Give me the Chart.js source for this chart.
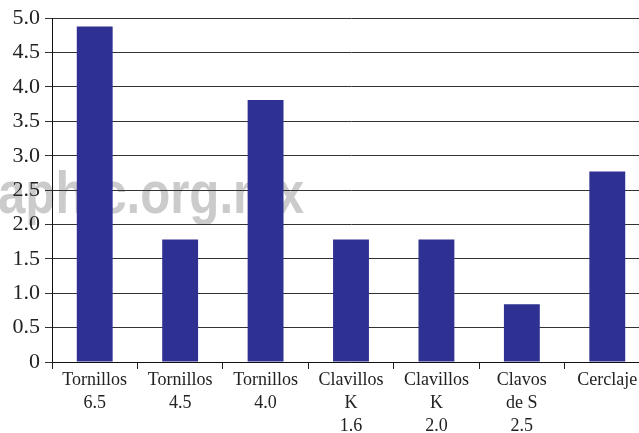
<!DOCTYPE html>
<html>
<head>
<meta charset="utf-8">
<script src="https://cdn.jsdelivr.net/npm/chart.js@4"></script>
<style>
  html, body { margin: 0; padding: 0; background: #fff; overflow: hidden; }
  #wrap { width: 639px; height: 433px; overflow: hidden; position: relative; }
  canvas { display: block; }
</style>
</head>
<body>
<div id="wrap"><canvas id="c" width="650" height="433"></canvas></div>
<script>
const categories = [
  ['Tornillos', '6.5'],
  ['Tornillos', '4.5'],
  ['Tornillos', '4.0'],
  ['Clavillos', 'K', '1.6'],
  ['Clavillos', 'K', '2.0'],
  ['Clavos', 'de S', '2.5'],
  ['Cerclaje']
];
const values = [4.88, 1.78, 3.81, 1.78, 1.78, 0.84, 2.77];
const yMin = 0, yMax = 5, yStep = 0.5;
const watermarkText = 'aphic.org.mx';

const watermark = {
  id: 'watermark',
  beforeDraw(chart) {
    const ctx = chart.ctx;
    ctx.save();
    ctx.fillStyle = '#cbcbcb';
    ctx.font = 'bold 60px "Liberation Sans", Arial, sans-serif';
    ctx.textBaseline = 'alphabetic';
    ctx.textAlign = 'left';
    ctx.translate(-2, 213);
    ctx.scale(0.82, 1);
    ctx.fillText(watermarkText, 0, 0);
    ctx.restore();
  }
};

new Chart(document.getElementById('c'), {
  type: 'bar',
  data: {
    labels: categories,
    datasets: [{
      data: values,
      backgroundColor: '#2e3192',
      borderWidth: 0,
      barPercentage: 0.42,
      categoryPercentage: 1.0
    }]
  },
  plugins: [watermark],
  options: {
    responsive: false,
    animation: false,
    devicePixelRatio: 1,
    layout: { padding: { top: 18, right: 0, left: 0, bottom: 0 } },
    plugins: { legend: { display: false }, tooltip: { enabled: false } },
    scales: {
      x: {
        offset: true,
        grid: {
          offset: true,
          drawOnChartArea: false,
          drawTicks: true,
          tickLength: 7,
          color: '#222',
          lineWidth: 1
        },
        border: { display: true, color: '#111', width: 1 },
        ticks: {
          color: '#222',
          padding: 0,
          maxRotation: 0,
          autoSkip: false,
          font: { family: '"Liberation Serif", "Times New Roman", serif', size: 18, lineHeight: 1.28 }
        },
        afterFit(scale) { scale.height = 71; }
      },
      y: {
        min: yMin,
        max: yMax,
        grid: {
          color: '#333',
          lineWidth: 1,
          drawTicks: true,
          tickLength: 7
        },
        border: { display: true, color: '#111', width: 1 },
        ticks: {
          stepSize: yStep,
          color: '#222',
          padding: 5,
          font: { family: '"Liberation Serif", "Times New Roman", serif', size: 22 },
          callback: (v) => v === 0 ? '0' : Number(v).toFixed(1)
        },
        afterFit(scale) { scale.width = 52; }
      }
    }
  }
});
</script>
</body>
</html>
